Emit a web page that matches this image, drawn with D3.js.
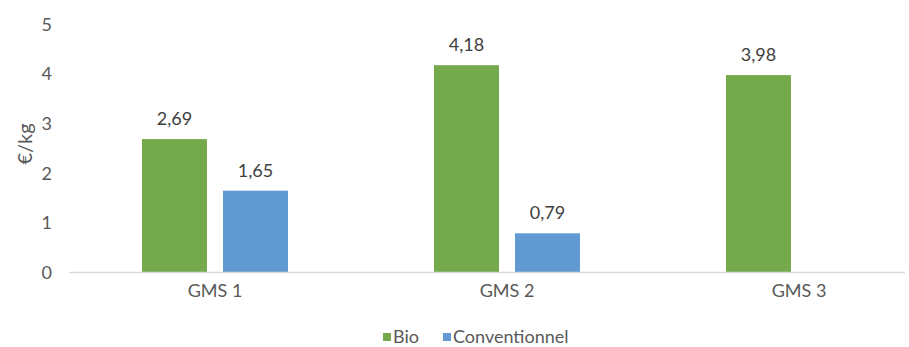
<!DOCTYPE html>
<html>
<head>
<meta charset="utf-8">
<script src="https://cdn.jsdelivr.net/npm/d3@7/dist/d3.min.js"></script>
<style>
  html, body { margin: 0; padding: 0; background: #ffffff; }
  svg { display: block; font-family: Lato, "Open Sans", sans-serif; }
</style>
</head>
<body>
<svg id="chart" width="909" height="347"></svg>
<script>
// Prix au kilo par enseigne, bio vs conventionnel
const categories = ["GMS 1", "GMS 2", "GMS 3"];
const seriesNames = ["Bio", "Conventionnel"];
const bioValues = [2.69, 4.18, 3.98];
const conventionnelValues = [1.65, 0.79, null];
const yTicks = [0, 1, 2, 3, 4, 5];
const colors = ["#74AA4B", "#6199D3"];

const svg = d3.select("#chart");

const plot = { left: 69, right: 945, top: 24.5, bottom: 272.5 };
const fontSize = "18px";

const x0 = d3.scaleBand().domain(categories).range([plot.left, plot.right]).padding(0);
const x1 = d3.scaleBand().domain(seriesNames).range([0, x0.bandwidth()])
  .paddingInner(0.1975).paddingOuter(0.901);
const y = d3.scaleLinear().domain([0, 5]).range([plot.bottom, plot.top]);
const color = d3.scaleOrdinal().domain(seriesNames).range(colors);

const fmt = v => d3.format(".2f")(v).replace(".", ",");

// Y axis labels (no line, no ticks)
const yAxis = d3.axisLeft(y).tickValues(yTicks).tickSize(0).tickPadding(0).tickFormat(d => d);
const gy = svg.append("g").attr("transform", "translate(52,0)").call(yAxis);
gy.select(".domain").remove();
gy.selectAll("text").attr("fill", "#595959").style("font-size", fontSize)
  .style("font-family", "Lato, 'Open Sans', sans-serif");

// Y axis title
svg.append("text")
  .attr("transform", `translate(32,144) rotate(-90)`)
  .attr("text-anchor", "middle")
  .attr("fill", "#595959")
  .style("font-size", "20px")
  .text("€/kg");

// Bars
const rows = categories.map((c, i) => ({
  cat: c,
  vals: [
    { name: seriesNames[0], v: bioValues[i] },
    { name: seriesNames[1], v: conventionnelValues[i] }
  ].filter(d => d.v != null)
}));

const groups = svg.append("g").selectAll("g").data(rows).join("g")
  .attr("transform", d => `translate(${x0(d.cat)},0)`);

groups.selectAll("rect").data(d => d.vals).join("rect")
  .attr("x", d => x1(d.name))
  .attr("width", x1.bandwidth())
  .attr("y", d => y(d.v))
  .attr("height", d => y(0) - y(d.v))
  .attr("fill", d => color(d.name));

groups.selectAll("text.val").data(d => d.vals).join("text")
  .attr("class", "val")
  .attr("x", d => x1(d.name) + x1.bandwidth() / 2)
  .attr("y", d => y(d.v) - 14)
  .attr("text-anchor", "middle")
  .attr("fill", "#404040")
  .style("font-size", fontSize)
  .text(d => fmt(d.v));

// X axis baseline and category labels
const xAxis = d3.axisBottom(x0).tickSize(0).tickPadding(12);
const gx = svg.append("g").attr("transform", `translate(0,${plot.bottom})`).call(xAxis);
gx.select(".domain").attr("stroke", "#D9D9D9").attr("stroke-width", 1.5)
  .attr("d", `M${plot.left},0H905`);
gx.selectAll("text").attr("fill", "#595959").style("font-size", fontSize)
  .style("font-family", "Lato, 'Open Sans', sans-serif");

// Legend
const legendItems = [
  { name: "Bio", x: 383 },
  { name: "Conventionnel", x: 443 }
];
const lg = svg.append("g").selectAll("g").data(legendItems).join("g")
  .attr("transform", d => `translate(${d.x},333)`);
lg.append("rect").attr("width", 8).attr("height", 8).attr("fill", d => color(d.name));
lg.append("text").attr("x", 10).attr("y", 10)
  .attr("fill", "#595959").style("font-size", fontSize).text(d => d.name);
</script>
</body>
</html>
